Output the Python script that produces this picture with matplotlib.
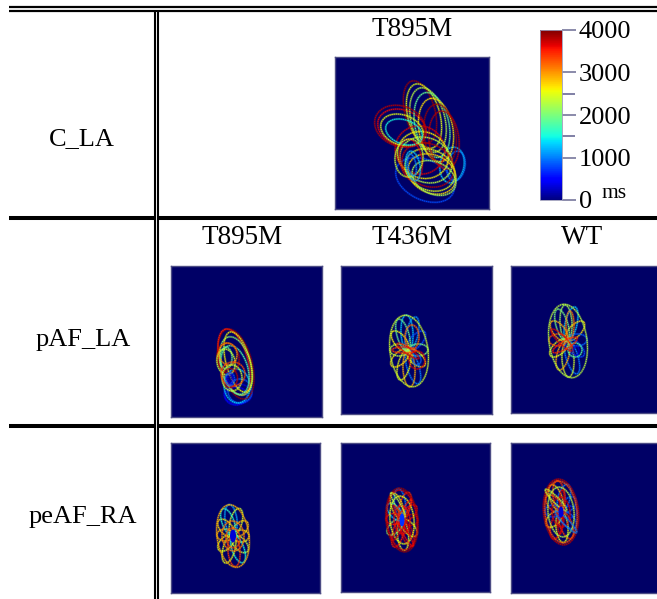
#!/usr/bin/env python3
# plot.py - table of activation maps (C_LA, pAF_LA, peAF_RA)

import matplotlib
matplotlib.use("Agg")
import matplotlib.pyplot as plt
from matplotlib.cm import ScalarMappable
from matplotlib.colors import Normalize
from matplotlib.patches import Ellipse

plt.rcParams['font.family'] = ['Liberation Serif', 'DejaVu Serif']

W, H = 657, 599
NAVY = '#000066'
EDGE = '#4c4c84'

row_labels = ['C_LA', 'pAF_LA', 'peAF_RA']
col_labels = ['T895M', 'T436M', 'WT']
cbar_ticks = [0, 1000, 2000, 3000, 4000]
cbar_minor = [1500, 2500]

# --- rings: picture pixels, ms is the colour ---
cla_x = [452, 456, 425, 402, 420, 424, 428, 432, 436, 440, 444, 420, 423, 426, 428, 430, 432, 434, 402, 400, 404, 411, 413, 409, 412]
cla_y = [165, 166, 180, 128, 112, 116, 120, 125, 130, 135, 140, 150, 155, 160, 165, 170, 174, 178, 130, 126, 132, 160, 166, 158, 165]
cla_w = [24, 18, 62, 50, 30, 32, 34, 34, 34, 32, 30, 50, 52, 54, 54, 52, 50, 46, 44, 52, 38, 22, 14, 28, 8]
cla_h = [36, 30, 40, 36, 64, 66, 66, 66, 64, 62, 58, 48, 46, 44, 42, 40, 38, 32, 30, 40, 24, 42, 30, 38, 22]
cla_a = [10, 10, 25, 20, -15, -15, -14, -12, -10, -8, -6, 25, 25, 25, 25, 25, 25, 25, 20, 20, 20, -10, -10, 5, -10]
cla_ms = [1300, 1000, 800, 3600, 3900, 2500, 2300, 1900, 2700, 3900, 3800, 3700, 2600, 2300, 3800, 2500, 2700, 2200, 2500, 3800, 1500, 3700, 1300, 2400, 1000]

paf1_x = [238, 236, 240, 237, 236, 234, 236, 238, 235, 226, 228, 226, 228, 230, 232, 233, 230, 230, 230]
paf1_y = [394, 396, 391, 386, 364, 362, 366, 362, 370, 358, 358, 362, 354, 378, 378, 374, 379, 379, 379]
paf1_w = [28, 22, 24, 26, 32, 28, 30, 24, 26, 12, 22, 18, 18, 15, 20, 24, 9, 6, 3]
paf1_h = [20, 18, 24, 34, 72, 68, 60, 62, 50, 22, 30, 26, 22, 19, 26, 24, 13, 9, 5]
paf1_a = [0, 0, 0, -5, -15, -15, -15, -15, -15, 0, -10, -10, -10, 0, 0, 0, 0, 0, 0]
paf1_ms = [300, 500, 900, 1300, 3900, 3500, 2100, 2600, 1800, 1900, 3800, 2400, 3000, 3800, 2400, 3300, 800, 500, 200]

paf2_x = [407, 412, 416, 418, 416, 413, 409, 404, 400, 399, 400, 403, 409, 412, 417, 417, 404, 408]
paf2_y = [333, 334, 341, 350, 358, 367, 369, 365, 358, 350, 341, 335, 351, 337, 360, 360, 350, 351]
paf2_w = [12, 12, 12, 12, 12, 12, 12, 12, 12, 12, 12, 12, 38, 14, 16, 8, 24, 26]
paf2_h = [36, 35, 25, 20, 23, 35, 36, 31, 23, 18, 24, 33, 72, 24, 18, 10, 6, 6]
paf2_a = [-3, 13, 44, 87, -48, -17, -3, 15, 47, 90, -38, -16, -8, 0, 0, 0, 0, 35]
paf2_ms = [1300, 1100, 800, 2000, 2600, 1000, 2900, 2500, 2700, 2300, 2600, 1900, 2400, 3200, 3700, 900, 3400, 3700]

paf3_x = [566, 571, 575, 577, 575, 572, 568, 563, 559, 558, 559, 562, 568, 570, 575, 562, 565, 576]
paf3_y = [323, 324, 331, 340, 348, 357, 359, 355, 348, 340, 331, 325, 341, 325, 350, 340, 345, 351]
paf3_w = [12, 12, 12, 12, 12, 12, 12, 12, 12, 12, 12, 12, 38, 8, 14, 30, 28, 6]
paf3_h = [36, 35, 25, 20, 23, 35, 36, 31, 23, 18, 24, 33, 74, 28, 14, 8, 8, 9]
paf3_a = [-3, 13, 44, 87, -48, -17, -3, 15, 47, 90, -38, -16, -8, 0, 0, 45, -30, 0]
paf3_ms = [2200, 1300, 2700, 900, 800, 1000, 2400, 2900, 2500, 3300, 2900, 2000, 2300, 3100, 1800, 3700, 3500, 300]

pea1_x = [231, 236, 240, 241, 240, 238, 234, 229, 226, 225, 226, 228, 233, 233, 233]
pea1_y = [520, 522, 529, 536, 544, 549, 551, 549, 543, 535, 528, 522, 536, 536, 538]
pea1_w = [12, 12, 12, 12, 12, 12, 12, 12, 12, 12, 12, 12, 32, 22, 14]
pea1_h = [31, 28, 20, 16, 21, 29, 31, 29, 20, 16, 21, 28, 63, 30, 20]
pea1_a = [-7, 15, 45, 90, -43, -20, -5, 15, 45, 90, -41, -20, -8, -5, -5]
pea1_ms = [1200, 2400, 2800, 2700, 2300, 1500, 3400, 2500, 2500, 2900, 2700, 1600, 2900, 3100, 3300]

pea2_x = [400, 405, 409, 410, 409, 407, 403, 398, 395, 394, 395, 397, 402, 402, 402, 402, 404, 400, 398, 406, 402]
pea2_y = [504, 506, 513, 520, 528, 533, 535, 533, 527, 519, 512, 506, 520, 520, 520, 520, 512, 528, 505, 534, 520]
pea2_w = [11, 11, 11, 11, 11, 11, 11, 11, 11, 11, 11, 11, 32, 30, 24, 16, 5, 5, 5, 5, 34]
pea2_h = [31, 28, 20, 16, 21, 29, 31, 29, 20, 16, 21, 28, 64, 60, 48, 28, 28, 28, 28, 28, 4]
pea2_a = [-7, 15, 45, 90, -43, -20, -5, 15, 45, 90, -41, -20, -6, -6, -6, -5, 30, 30, -30, -30, 60]
pea2_ms = [1000, 3400, 3600, 3800, 2500, 3700, 2400, 3500, 2100, 3500, 1300, 2700, 3900, 3700, 2500, 3600, 3500, 3700, 2300, 3600, 3700]

pea3_x = [559, 564, 568, 569, 568, 566, 562, 557, 554, 553, 554, 556, 561, 561, 561, 561, 562, 560, 566, 556]
pea3_y = [496, 498, 505, 512, 520, 525, 527, 525, 519, 511, 504, 498, 512, 512, 512, 512, 504, 520, 522, 500]
pea3_w = [12, 12, 12, 12, 12, 12, 12, 12, 12, 12, 12, 12, 35, 32, 26, 18, 5, 5, 6, 6]
pea3_h = [31, 28, 20, 16, 21, 29, 31, 29, 20, 16, 21, 28, 66, 62, 50, 30, 28, 28, 30, 30]
pea3_a = [-7, 15, 45, 90, -43, -20, -5, 15, 45, 90, -41, -20, -6, -6, -6, -5, 0, 0, -45, -45]
pea3_ms = [3400, 1000, 900, 700, 900, 3400, 2500, 3600, 2700, 800, 3300, 2800, 3800, 3300, 2300, 3700, 3700, 3700, 1000, 2400]

# holes in the hub of the wheels
hole_x = [233, 402, 561]
hole_y = [536, 520, 512]
hole_w = [6, 5, 5]
hole_h = [13, 13, 11]
hole_ms = [300, 700, 300]

norm = Normalize(0, 4000)
cmap = plt.get_cmap('jet')

fig = plt.figure(figsize=(W / 100, H / 100), dpi=100, facecolor='white')


def px_axes(x0, y0, x1, y1):
    ax = fig.add_axes([x0 / W, 1 - y1 / H, (x1 - x0) / W, (y1 - y0) / H])
    ax.set_xlim(x0, x1)
    ax.set_ylim(y1, y0)
    return ax


# table rules and text sit on one full size axes
bg = px_axes(0, 0, W, H)
bg.axis('off')
bg.hlines([7, 11], 9, W, color='black', lw=1.6)
bg.hlines([218, 426], 9, W, color='black', lw=2.9)
bg.vlines(156.5, 12, H, color='white', lw=1.4)
bg.vlines([155, 158], 12, H, color='black', lw=1.5)

bg.text(82, 139, row_labels[0], fontsize=19, ha='center', va='center')
bg.text(83, 340, row_labels[1], fontsize=19, ha='center', va='center')
bg.text(83, 517, row_labels[2], fontsize=19, ha='center', va='center')
bg.text(412, 30, col_labels[0], fontsize=19.5, ha='center', va='center')
bg.text(242, 238, col_labels[0], fontsize=19.5, ha='center', va='center')
bg.text(412, 238, col_labels[1], fontsize=19.5, ha='center', va='center')
bg.text(582, 238, col_labels[2], fontsize=19.5, ha='center', va='center')


def panel(box, x, y, w, h, a, ms):
    ax = px_axes(*box)
    ax.set_facecolor(NAVY)
    ax.set_xticks([])
    ax.set_yticks([])
    for s in ax.spines.values():
        s.set_color(EDGE)
        s.set_linewidth(1.0)
    # soft halo first, then the dotted ring, gives the blurred look
    for i in range(len(x)):
        c = cmap(norm(ms[i]))
        ax.add_patch(Ellipse((x[i], y[i]), w[i], h[i], angle=a[i], fill=False,
                             ec=c, lw=1.6, alpha=0.3))
        ax.add_patch(Ellipse((x[i], y[i]), w[i], h[i], angle=a[i], fill=False,
                             ec=c, lw=0.8, alpha=0.85, ls=(0, (1.3, 0.6))))
    return ax


panel((335, 57, 489, 209), cla_x, cla_y, cla_w, cla_h, cla_a, cla_ms)
panel((171, 266, 322, 417), paf1_x, paf1_y, paf1_w, paf1_h, paf1_a, paf1_ms)
panel((341, 266, 492, 414), paf2_x, paf2_y, paf2_w, paf2_h, paf2_a, paf2_ms)
panel((511, 266, 658, 413), paf3_x, paf3_y, paf3_w, paf3_h, paf3_a, paf3_ms)
ax_a = panel((171, 443, 320, 593), pea1_x, pea1_y, pea1_w, pea1_h, pea1_a, pea1_ms)
ax_b = panel((341, 443, 490, 592), pea2_x, pea2_y, pea2_w, pea2_h, pea2_a, pea2_ms)
ax_c = panel((511, 443, 658, 593), pea3_x, pea3_y, pea3_w, pea3_h, pea3_a, pea3_ms)

for i, ax in enumerate([ax_a, ax_b, ax_c]):
    ax.add_patch(Ellipse((hole_x[i], hole_y[i]), hole_w[i], hole_h[i],
                         fc=cmap(norm(hole_ms[i])), ec='none', zorder=5))

# colorbar
cax = fig.add_axes([540 / W, 1 - 200 / H, 22 / W, 170 / H])
cb = fig.colorbar(ScalarMappable(norm=norm, cmap=cmap), cax=cax)
cb.outline.set_edgecolor('#9a9ab8')
cb.outline.set_linewidth(0.6)
cb.set_ticks(cbar_ticks)
cb.ax.set_yticks(cbar_minor, minor=True)
cb.ax.tick_params(which='major', length=10, width=1.4, color='#8a8aaa', pad=2)
cb.ax.tick_params(which='minor', length=9, width=1.2, color='#6a6a96')
cb.ax.set_yticklabels([str(t) for t in cbar_ticks], fontsize=19)
bg.text(602, 194, 'ms', fontsize=15.5, ha='left', va='center')

fig.savefig('out.png', dpi=100)
